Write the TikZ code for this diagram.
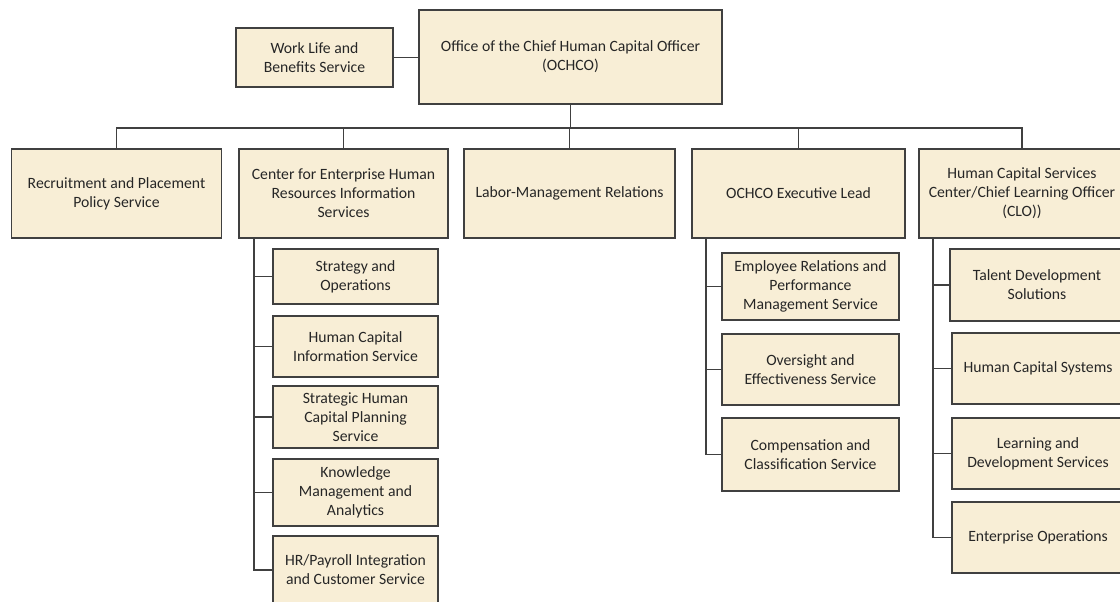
\documentclass[tikz,border=0pt]{standalone}
\usepackage{fontspec}
\setmainfont{Carlito}
\usepackage{tikz}
\usetikzlibrary{calc}
\definecolor{parch}{RGB}{248,238,214}
\definecolor{edge}{RGB}{64,64,64}
\definecolor{ink}{RGB}{38,38,38}
\begin{document}
\begin{tikzpicture}[x=1pt,y=-1pt,
    box/.style={draw=edge,fill=parch,line width=1.5pt,align=center,text=ink,font=\fontsize{15.7}{19}\selectfont},
    link/.style={draw=edge,line width=1.5pt}]
\useasboundingbox (0,0) rectangle (1120,602);
\node[box,minimum width=303pt,minimum height=94pt] (OCHCO) at (570.5,57) {Office of the Chief Human Capital Officer\\(OCHCO)};
\node[box,minimum width=157pt,minimum height=59pt] (WLB) at (314.5,57.5) {Work Life and\\Benefits Service};
\node[box,minimum width=210pt,minimum height=89pt] (RPPS) at (116.5,193.5) {Recruitment and Placement\\Policy Service};
\node[box,minimum width=209pt,minimum height=89pt] (CEHRIS) at (343.5,193.5) {Center for Enterprise Human\\Resources Information\\Services};
\node[box,minimum width=211pt,minimum height=89pt] (LMR) at (569.5,193.5) {Labor-Management Relations};
\node[box,minimum width=213pt,minimum height=89pt] (OEL) at (798.5,193.5) {OCHCO Executive Lead};
\node[box,minimum width=206pt,minimum height=89pt] (HCSC) at (1022,193.5) {Human Capital Services\\Center/Chief Learning Officer\\(CLO))};
\node[box,minimum width=165pt,minimum height=55pt] (SO) at (355.5,276.5) {Strategy and\\Operations};
\node[box,minimum width=165pt,minimum height=61pt] (HCIS) at (355.5,346.5) {Human Capital\\Information Service};
\node[box,minimum width=165pt,minimum height=62pt] (SHCP) at (355.5,417) {Strategic Human\\Capital Planning\\Service};
\node[box,minimum width=165pt,minimum height=67pt] (KMA) at (355.5,492.5) {Knowledge\\Management and\\Analytics};
\node[box,minimum width=165pt,minimum height=68pt] (HRP) at (355.5,570) {HR/Payroll Integration\\and Customer Service};
\node[box,minimum width=177pt,minimum height=67pt] (ERPMS) at (810.5,286.5) {Employee Relations and\\Performance\\Management Service};
\node[box,minimum width=177pt,minimum height=71pt] (OES) at (810.5,369.5) {Oversight and\\Effectiveness Service};
\node[box,minimum width=177pt,minimum height=73pt] (CCS) at (810.5,454.5) {Compensation and\\Classification Service};
\node[box,minimum width=174pt,minimum height=72pt] (TDS) at (1037,285) {Talent Development\\Solutions};
\node[box,minimum width=172pt,minimum height=71pt] (HCSY) at (1038,368.5) {Human Capital Systems};
\node[box,minimum width=172pt,minimum height=71pt] (LDS) at (1038,453.5) {Learning and\\Development Services};
\node[box,minimum width=172pt,minimum height=71pt] (EO) at (1038,537.5) {Enterprise Operations};
\draw[link] (WLB.east) -- (OCHCO.west |- WLB.east);
\coordinate (bus) at (570.5,128);
\draw[link] (OCHCO.south) -- (bus);
\draw[link] (RPPS.north) |- (bus) -| (HCSC.north);
\foreach \n in {CEHRIS,LMR,OEL} \draw[link] (bus -| \n.north) -- (\n.north);
\coordinate (c1) at (254,238);
\coordinate (c2) at (706,238);
\coordinate (c3) at (933,238);
\foreach \n in {SO,HCIS,SHCP,KMA,HRP} \draw[link] (c1) |- (\n.west);
\foreach \n in {ERPMS,OES,CCS} \draw[link] (c2) |- (\n.west);
\foreach \n in {TDS,HCSY,LDS,EO} \draw[link] (c3) |- (\n.west);
\end{tikzpicture}
\end{document}
